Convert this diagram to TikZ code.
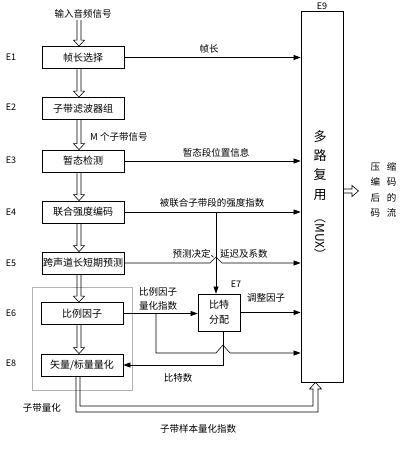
\documentclass[tikz,border=0pt]{standalone}
\usepackage{fontspec}
\newfontfamily\cjk{Noto Sans CJK SC}
\usetikzlibrary{arrows.meta,calc}
\newcommand\vdown[2]{\draw[pln] let \p1=(#1), \p2=(#2) in (\x1-2pt,\y1) -- (\x1-2pt,\y2+6pt) -- (\x1-5.5pt,\y2+6pt) -- (\x1,\y2) -- (\x1+5.5pt,\y2+6pt) -- (\x1+2pt,\y2+6pt) -- (\x1+2pt,\y1);}
\begin{document}
\begin{tikzpicture}[x=1pt,y=-1pt,
  font=\cjk\fontsize{9.5}{11}\selectfont,
  box/.style={draw, line width=0.8pt, minimum width=82pt, minimum height=22pt, inner sep=0pt, font=\cjk\fontsize{10}{12}\selectfont},
  sig/.style={line width=0.6pt, -{Triangle[length=7pt,width=5pt]}},
  pln/.style={line width=0.6pt, line join=miter},
  lbl/.style={inner sep=1pt},
  elab/.style={inner sep=1pt, font=\cjk\fontsize{9}{10}\selectfont},
  muxt/.style={inner sep=0pt, font=\cjk\fontsize{13}{14}\selectfont}
]
\useasboundingbox (0,0) rectangle (407,450);

% left column boxes
\node[box] (e1) at (83,57.5) {帧长选择};
\node[box] (e2) at (83,108.5) {子带滤波器组};
\node[box] (e3) at (83,161) {暂态检测};
\node[box] (e4) at (83,212) {联合强度编码};
\node[box] (e5) at (83,263) {跨声道长短期预测};
\node[box] (e6) at (82,313.5) {比例因子};
\node[box] (e8) at (82,365) {矢量/标量量化};
\node[draw, gray!60, line width=0.5pt, minimum width=100pt, minimum height=103pt, inner sep=0pt] (sq) at (82,338.5) {};
\node[lbl] (sqt) at (42,408) {子带量化};

% E7 box
\node[draw, line width=0.8pt, minimum width=42pt, minimum height=37pt, inner sep=0pt, align=center, font=\cjk\fontsize{10}{15}\selectfont] (e7) at (219,312.5) {比特\\分配};

% MUX
\node[draw, line width=0.8pt, minimum width=42pt, minimum height=371pt, inner sep=0pt] (mux) at (322,196.5) {};
\node[elab, anchor=south] (e9) at (mux.north) {E9};
\node[muxt] (m1) at (320,137) {多};
\node[muxt] (m2) at (320,156) {路};
\node[muxt] (m3) at (320,175) {复};
\node[muxt] (m4) at (320,195) {用};
\node[inner sep=0pt, rotate=-90, font=\cjk\fontsize{12}{13}\selectfont] (m5) at (320,236) {（MUX）};

% E labels
\node[elab] (l1) at (11,57) {E1};
\node[elab] (l2) at (11,107) {E2};
\node[elab] (l3) at (11,160) {E3};
\node[elab] (l4) at (11,212) {E4};
\node[elab] (l5) at (11,263) {E5};
\node[elab] (l6) at (11,313) {E6};
\node[elab] (l8) at (11,363) {E8};
\node[elab] (l7) at (236,284) {E7};

% input and double arrows
\node[lbl] (in) at (83,14) {输入音频信号};
\coordinate (ax) at (79,0);
\coordinate (ia) at (79,20);
\vdown{ia}{e1.north -| ax}
\vdown{e1.south -| ax}{e2.north -| ax}
\vdown{e2.south -| ax}{e3.north -| ax}
\node[lbl, anchor=west] (msig) at (89,137) {M 个子带信号};
\vdown{e3.south -| ax}{e4.north -| ax}
\vdown{e4.south -| ax}{e5.north -| ax}
\vdown{e5.south -| ax}{e6.north -| ax}
\vdown{e6.south -| ax}{e8.north -| ax}

% signals to MUX
\draw[sig] (e1.east) -- (e1.east -| mux.west);
\node[lbl] (t1) at (209,49) {帧长};
\draw[sig] (e3.east) -- (e3.east -| mux.west);
\node[lbl] (t3) at (216,153) {暂态段位置信息};
\draw[sig] (e4.east) -- (e4.east -| mux.west);
\node[lbl] (t4) at (212,203) {被联合子带段的强度指数};
\coordinate (vx) at (216,0);
\draw[sig] (e4.east -| vx) -- (e7.north -| vx);
% E5 line with hop
\draw[sig] (e5.east) -- ($(e5.east -| vx)+(-6,0)$) -- ($(e5.east -| vx)+(0,-6)$) -- ($(e5.east -| vx)+(6,0)$) -- (e5.east -| mux.west);
\node[lbl] (t5) at (220,254) {预测决定、延迟及系数};

% E6 -> E7
\draw[sig] (e6.east) -- (e6.east -| e7.west);
\node[lbl, align=left, font=\cjk\fontsize{9.5}{14}\selectfont] (t6) at (158,299) {比例因子\\量化指数};
% branch to MUX with hop
\coordinate (bx) at (156,353);
\coordinate (hx) at (223,353);
\draw[sig] (e6.east -| bx) -- (bx) -- ($(hx)+(-7,0)$) -- ($(hx)+(0,-8)$) -- ($(hx)+(7,0)$) -- (hx -| mux.west);
% E7 -> MUX
\draw[sig] (e7.east) -- (e7.east -| mux.west);
\node[lbl] (t7) at (266,298) {调整因子};
% E7 -> E8 bit count
\draw[sig] (e7.south -| hx) -- (e8.east -| hx) -- (e8.east);
\node[lbl] (t8) at (178,378) {比特数};

% subband sample quant index (double line to MUX)
\coordinate (bo1) at (76,412);
\coordinate (bi1) at (80,406);
\coordinate (bo2) at (318,412);
\coordinate (bi2) at (313,406);
\coordinate (tp) at (315.5,0);
\draw[pln] (e8.south -| bo1) -- (bo1) -- (bo2) -- (318,389) -- (321.5,389) -- (mux.south -| tp) -- (309.5,389) -- (313,389) -- (bi2) -- (bi1) -- (e8.south -| bi1);
\node[lbl] (t9) at (198,429) {子带样本量化指数};

% output
\draw[pln] (mux.east |- 0,189) -- (352,189) -- (352,185.5) -- (358.5,191) -- (352,196.5) -- (352,193) -- (mux.east |- 0,193);
\node[inner sep=0pt, align=center, font=\cjk\fontsize{9.5}{15.5}\selectfont] (out) at (383.5,190) {压\hspace{7pt}缩\\编\hspace{7pt}码\\后\hspace{7pt}的\\码\hspace{7pt}流};
\end{tikzpicture}
\end{document}
